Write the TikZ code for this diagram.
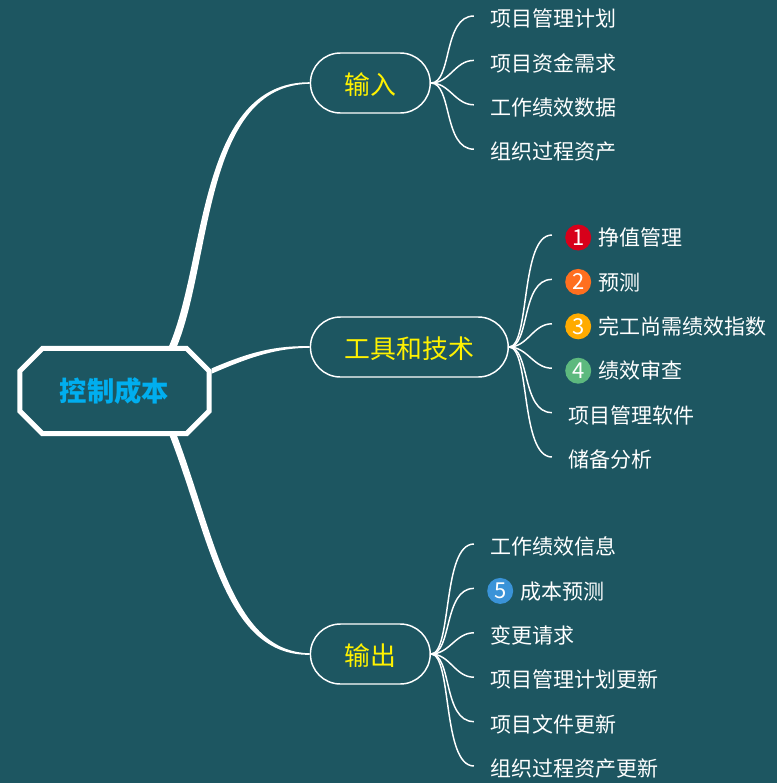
\documentclass[tikz,border=0pt]{standalone}
\usepackage{fontspec}
\setmainfont{Noto Sans CJK SC}
\usepackage{tikz}
\usetikzlibrary{positioning, shapes.misc}
\usepackage{xcolor}
\definecolor{slate}{HTML}{1D5661}
\definecolor{rootblue}{HTML}{00AEEF}

\begin{document}
\begin{tikzpicture}[
        x=0.75pt, y=-0.75pt,
        rootbox/.style={chamfered rectangle, chamfered rectangle xsep=8.5pt, chamfered rectangle ysep=8.5pt, draw=white, line width=3.8pt, minimum width=142pt, minimum height=64pt, text=rootblue, font=\fontsize{20.5pt}{24pt}\selectfont\bfseries},
        pill/.style={rounded rectangle, draw=white, line width=1.1pt, minimum height=45pt, text height=18pt, text depth=0.5pt, text=yellow, font=\fontsize{19.4pt}{23pt}\selectfont},
        leaf/.style={rectangle, align=left, text width=160pt, inner xsep=12pt, inner ysep=0.5pt, text height=16.5pt, text depth=0.5pt, minimum height=18pt, text=white, font=\fontsize{15.75pt}{18pt}\selectfont},
        badge/.style={circle, inner sep=0pt, minimum size=19.5pt, text=white, font=\fontsize{16.5pt}{18pt}\selectfont},
        trunk/.style={fill=white},
        twig/.style={draw=white, line width=1.1pt, out=0, in=180, out max distance=16pt, in max distance=24pt},
        node distance=14.9pt and 32.25pt
        ]
        \useasboundingbox (0,0) rectangle (777,783);
        \fill[slate] (0,0) rectangle (777,783);

        % Nodes
        \node (root) [rootbox] at (114.5,391) {控制成本};
        \node (input) [pill, minimum width=96.5pt, right=73.5pt of root, yshift=231pt] {输入};
        \node (tools) [pill, minimum width=155pt, right=73.5pt of root, yshift=33pt] {工具和技术};
        \node (output) [pill, minimum width=96.5pt, right=73.5pt of root, yshift=-197.25pt] {输出};

        \node (in1) [leaf, right=of input, yshift=50.25pt] {项目管理计划};
        \node (in2) [leaf, below=of in1] {项目资金需求};
        \node (in3) [leaf, below=of in2] {工作绩效数据};
        \node (in4) [leaf, below=of in3] {组织过程资产};

        \node (tool1) [leaf, right=of tools, yshift=84pt] {\hspace*{22.5pt}挣值管理};
        \node (tool2) [leaf, below=of tool1] {\hspace*{22.5pt}预测};
        \node (tool3) [leaf, below=of tool2] {\hspace*{22.5pt}完工尚需绩效指数};
        \node (tool4) [leaf, below=of tool3] {\hspace*{22.5pt}绩效审查};
        \node (tool5) [leaf, below=of tool4] {项目管理软件};
        \node (tool6) [leaf, below=of tool5] {储备分析};

        \node (out1) [leaf, right=of output, yshift=82.5pt] {工作绩效信息};
        \node (out2) [leaf, below=of out1] {\hspace*{23pt}成本预测};
        \node (out3) [leaf, below=of out2] {变更请求};
        \node (out4) [leaf, below=of out3] {项目管理计划更新};
        \node (out5) [leaf, below=of out4] {项目文件更新};
        \node (out6) [leaf, below=of out5] {组织过程资产更新};

        % Badges
        \node (mark1) [badge, fill={rgb,255:red,215;green,0;blue,26}, right=9.75pt of tool1.west, yshift=-1.9pt] {1};
        \node (mark2) [badge, fill={rgb,255:red,255;green,111;blue,31}, right=9.75pt of tool2.west, yshift=-1.9pt] {2};
        \node (mark3) [badge, fill={rgb,255:red,255;green,171;blue,0}, right=9.75pt of tool3.west, yshift=-1.9pt] {3};
        \node (mark4) [badge, fill={rgb,255:red,93;green,185;blue,126}, right=9.75pt of tool4.west, yshift=-1.9pt] {4};
        \node (mark5) [badge, fill={rgb,255:red,58;green,147;blue,216}, right=9.75pt of out2.west, yshift=-1.9pt] {5};

        % Thick branches
        \fill[trunk] ([xshift=41pt]root.north) .. controls (206,260) and (198,82) .. ([yshift=0.6pt]input.west)
            -- ([yshift=-0.6pt]input.west) .. controls (204,85) and (212,260) .. ([xshift=47pt]root.north) -- cycle;
        \fill[trunk] ([yshift=17pt]root.east) .. controls (250,352) and (275,345.5) .. ([yshift=0.6pt]tools.west)
            -- ([yshift=-0.6pt]tools.west) .. controls (278,348) and (252,356) .. ([yshift=13pt]root.east) -- cycle;
        \fill[trunk] ([xshift=41.5pt]root.south) .. controls (210,540) and (225,656) .. ([yshift=-0.6pt]output.west)
            -- ([yshift=0.6pt]output.west) .. controls (232,652) and (216,540) .. ([xshift=47pt]root.south) -- cycle;

        % Thin branches
        \draw [twig] (input.east) to (in1.west);
        \draw [twig] (input.east) to (in2.west);
        \draw [twig] (input.east) to (in3.west);
        \draw [twig] (input.east) to (in4.west);

        \draw [twig] (tools.east) to (tool1.west);
        \draw [twig] (tools.east) to (tool2.west);
        \draw [twig] (tools.east) to (tool3.west);
        \draw [twig] (tools.east) to (tool4.west);
        \draw [twig] (tools.east) to (tool5.west);
        \draw [twig] (tools.east) to (tool6.west);

        \draw [twig] (output.east) to (out1.west);
        \draw [twig] (output.east) to (out2.west);
        \draw [twig] (output.east) to (out3.west);
        \draw [twig] (output.east) to (out4.west);
        \draw [twig] (output.east) to (out5.west);
        \draw [twig] (output.east) to (out6.west);

    \end{tikzpicture}
\end{document}
